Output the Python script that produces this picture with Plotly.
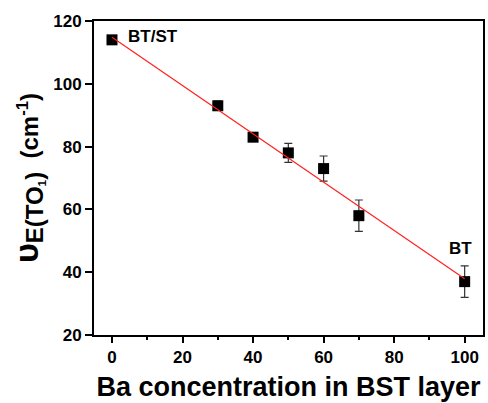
import plotly.graph_objects as go

ba_conc = [0, 30, 40, 50, 60, 70, 100]
freq = [114, 93, 83, 78, 73, 58, 37]
err = [1, 1.5, 1, 3, 4, 5, 5]
fit_x = [0, 100]
fit_y = [114.8, 37.9]
xticks = [0, 20, 40, 60, 80, 100]
xminor = [10, 30, 50, 70, 90]
yticks = [20, 40, 60, 80, 100, 120]

FONT = "Arial, Liberation Sans, sans-serif"

fig = go.Figure()
fig.add_trace(go.Scatter(
    x=ba_conc, y=freq, mode="markers",
    marker=dict(symbol="square", size=11, color="black"),
    error_y=dict(type="data", array=err, visible=True, color="#333", thickness=1.2, width=4),
    showlegend=False))
fig.add_trace(go.Scatter(
    x=fit_x, y=fit_y, mode="lines",
    line=dict(color="#ff2020", width=1.2), showlegend=False))

fig.add_annotation(x=4.1, y=115, text="<b>BT/ST</b>", showarrow=False, xanchor="left",
                   font=dict(family=FONT, size=17, color="black"))
fig.add_annotation(x=98.9, y=47.7, text="<b>BT</b>", showarrow=False,
                   font=dict(family=FONT, size=17, color="black"))

fig.update_layout(
    width=488, height=403,
    margin=dict(l=94, r=3, t=21, b=68),
    plot_bgcolor="white", paper_bgcolor="white",
    font=dict(family=FONT, color="black"),
)
fig.update_xaxes(
    range=[-5.1, 105.2], tickvals=xticks, ticktext=[f"<b>{v}</b>" for v in xticks],
    ticks="outside", ticklen=6, tickwidth=2, tickcolor="black",
    minor=dict(tickvals=xminor, ticks="outside", ticklen=3, tickwidth=2, tickcolor="black"),
    showline=True, linewidth=2, linecolor="black", mirror=True, showgrid=False, zeroline=False,
    tickfont=dict(family=FONT, size=17),
    title=dict(text="<b>Ba concentration in BST layer</b>", font=dict(family=FONT, size=27), standoff=11),
)
fig.update_yaxes(
    range=[20, 120], tickvals=yticks, ticktext=[f"<b>{v}</b>" for v in yticks],
    ticks="outside", ticklen=7, tickwidth=2, tickcolor="black",
    showline=True, linewidth=2, linecolor="black", mirror=True, showgrid=False, zeroline=False,
    tickfont=dict(family=FONT, size=17),
    title=dict(text="<b><span style='font-size:34px'>υ</span><sub><span style='font-size:24px'>E(TO</span><sub>1</sub><span style='font-size:24px'>)</span></sub>  (cm<sup>-1</sup>)</b>",
               font=dict(family=FONT, size=24), standoff=8),
)

fig.write_html("out.html")
